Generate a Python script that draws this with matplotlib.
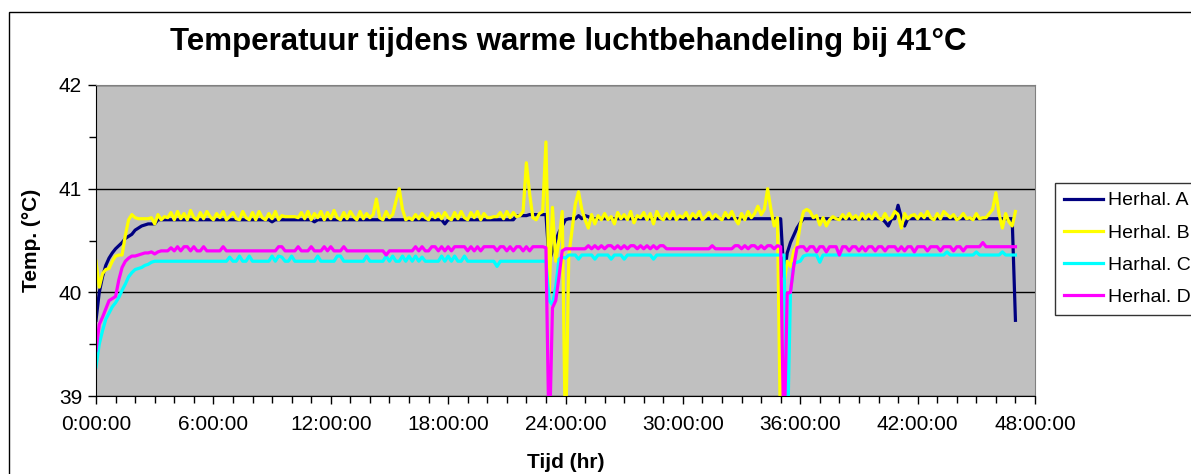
import numpy as np
import matplotlib
matplotlib.use("Agg")
import matplotlib.pyplot as plt
from matplotlib.ticker import MultipleLocator, FuncFormatter
from matplotlib.patches import Rectangle

plt.rcParams["font.family"] = ["Liberation Sans", "DejaVu Sans"]

# metingen elke 10 minuten (uur = index / 6)
STEP_MIN = 10

labels = ["Herhal. A", "Herhal. B", "Harhal. C", "Herhal. D"]
colors = ["#000080", "#FFFF00", "#00FFFF", "#FF00FF"]

herhal_a = [
  39.73, 40.00, 40.15, 40.26, 40.33, 40.38, 40.42, 40.45, 40.48, 40.52, 40.54, 40.56,
  40.60, 40.62, 40.64, 40.65, 40.66, 40.66, 40.66, 40.70, 40.70, 40.70, 40.70, 40.70,
  40.70, 40.70, 40.70, 40.70, 40.70, 40.70, 40.70, 40.70, 40.70, 40.70, 40.70, 40.70,
  40.70, 40.70, 40.70, 40.70, 40.70, 40.70, 40.70, 40.70, 40.70, 40.70, 40.70, 40.70,
  40.70, 40.70, 40.70, 40.70, 40.70, 40.70, 40.68, 40.70, 40.70, 40.70, 40.70, 40.70,
  40.70, 40.70, 40.70, 40.70, 40.70, 40.70, 40.70, 40.68, 40.70, 40.70, 40.70, 40.70,
  40.70, 40.70, 40.70, 40.70, 40.70, 40.70, 40.70, 40.70, 40.70, 40.70, 40.70, 40.70,
  40.70, 40.70, 40.70, 40.70, 40.70, 40.70, 40.70, 40.70, 40.70, 40.70, 40.70, 40.70,
  40.70, 40.70, 40.70, 40.70, 40.70, 40.70, 40.70, 40.70, 40.70, 40.70, 40.70, 40.66,
  40.70, 40.70, 40.70, 40.70, 40.70, 40.70, 40.70, 40.70, 40.70, 40.70, 40.70, 40.70,
  40.70, 40.70, 40.70, 40.70, 40.70, 40.70, 40.70, 40.70, 40.70, 40.74, 40.74, 40.74,
  40.74, 40.75, 40.75, 40.75, 40.75, 40.75, 40.75, 40.30, 40.40, 40.50, 40.58, 40.64,
  40.70, 40.71, 40.71, 40.71, 40.74, 40.71, 40.74, 40.73, 40.71, 40.71, 40.71, 40.71,
  40.71, 40.71, 40.71, 40.71, 40.71, 40.71, 40.71, 40.71, 40.71, 40.71, 40.71, 40.71,
  40.71, 40.71, 40.71, 40.71, 40.71, 40.71, 40.71, 40.71, 40.71, 40.71, 40.71, 40.71,
  40.71, 40.71, 40.71, 40.71, 40.71, 40.71, 40.71, 40.71, 40.71, 40.71, 40.71, 40.71,
  40.71, 40.71, 40.71, 40.71, 40.71, 40.71, 40.71, 40.71, 40.71, 40.71, 40.71, 40.71,
  40.71, 40.71, 40.71, 40.71, 40.71, 40.71, 40.71, 40.15, 40.38, 40.48, 40.55, 40.62,
  40.67, 40.71, 40.71, 40.71, 40.71, 40.71, 40.71, 40.71, 40.71, 40.71, 40.71, 40.71,
  40.71, 40.71, 40.71, 40.71, 40.71, 40.71, 40.71, 40.71, 40.71, 40.71, 40.71, 40.71,
  40.71, 40.71, 40.68, 40.64, 40.71, 40.71, 40.84, 40.72, 40.64, 40.71, 40.71, 40.71,
  40.71, 40.71, 40.71, 40.71, 40.71, 40.71, 40.71, 40.71, 40.71, 40.71, 40.71, 40.71,
  40.71, 40.71, 40.71, 40.71, 40.71, 40.71, 40.71, 40.71, 40.71, 40.71, 40.71, 40.71,
  40.71, 40.71, 40.71, 40.71, 40.71, 40.71, 39.73,
]

herhal_b = [
  40.30, 40.05, 40.18, 40.22, 40.23, 40.30, 40.35, 40.36, 40.36, 40.55, 40.70, 40.75,
  40.72, 40.71, 40.71, 40.71, 40.71, 40.72, 40.66, 40.75, 40.70, 40.73, 40.72, 40.77,
  40.70, 40.78, 40.71, 40.76, 40.70, 40.79, 40.72, 40.70, 40.77, 40.71, 40.78, 40.73,
  40.70, 40.76, 40.72, 40.78, 40.70, 40.73, 40.77, 40.71, 40.70, 40.78, 40.72, 40.70,
  40.77, 40.70, 40.78, 40.72, 40.70, 40.76, 40.71, 40.78, 40.70, 40.74, 40.73, 40.73,
  40.73, 40.73, 40.72, 40.77, 40.71, 40.78, 40.70, 40.76, 40.72, 40.78, 40.70, 40.77,
  40.71, 40.79, 40.72, 40.70, 40.77, 40.71, 40.78, 40.73, 40.70, 40.78, 40.71, 40.76,
  40.72, 40.75, 40.90, 40.72, 40.70, 40.78, 40.72, 40.75, 40.88, 41.00, 40.80, 40.70,
  40.72, 40.70, 40.75, 40.71, 40.76, 40.72, 40.70, 40.77, 40.72, 40.76, 40.71, 40.77,
  40.72, 40.70, 40.77, 40.71, 40.78, 40.72, 40.70, 40.77, 40.72, 40.78, 40.70, 40.76,
  40.72, 40.72, 40.73, 40.73, 40.77, 40.71, 40.78, 40.72, 40.77, 40.73, 40.74, 40.78,
  41.25, 40.95, 40.72, 40.70, 40.76, 40.78, 41.45, 40.00, 40.82, 40.30, 40.50, 40.78,
  38.50, 40.35, 40.60, 40.85, 40.97, 40.80, 40.70, 40.62, 40.75, 40.66, 40.74, 40.70,
  40.76, 40.70, 40.73, 40.66, 40.77, 40.71, 40.75, 40.70, 40.78, 40.67, 40.74, 40.72,
  40.77, 40.70, 40.76, 40.66, 40.78, 40.72, 40.70, 40.76, 40.71, 40.78, 40.70, 40.74,
  40.72, 40.77, 40.70, 40.76, 40.72, 40.78, 40.70, 40.73, 40.77, 40.71, 40.75, 40.72,
  40.70, 40.77, 40.72, 40.78, 40.71, 40.66, 40.76, 40.70, 40.78, 40.72, 40.76, 40.83,
  40.75, 40.80, 41.00, 40.80, 40.64, 40.72, 38.50, 40.08, 40.30, 40.25, 40.40, 40.45,
  40.65, 40.78, 40.80, 40.78, 40.72, 40.74, 40.65, 40.72, 40.64, 40.70, 40.73, 40.71,
  40.70, 40.75, 40.71, 40.76, 40.71, 40.74, 40.70, 40.76, 40.71, 40.75, 40.71, 40.77,
  40.72, 40.70, 40.76, 40.70, 40.72, 40.78, 40.75, 40.62, 40.76, 40.71, 40.74, 40.75,
  40.71, 40.76, 40.72, 40.78, 40.72, 40.70, 40.76, 40.71, 40.78, 40.75, 40.72, 40.75,
  40.70, 40.72, 40.76, 40.71, 40.72, 40.70, 40.76, 40.71, 40.72, 40.72, 40.76, 40.80,
  40.96, 40.75, 40.62, 40.76, 40.68, 40.64, 40.78,
]

harhal_c = [
  39.28, 39.50, 39.63, 39.74, 39.80, 39.86, 39.90, 39.95, 40.02, 40.08, 40.15, 40.19,
  40.22, 40.23, 40.24, 40.26, 40.27, 40.29, 40.30, 40.30, 40.30, 40.30, 40.30, 40.30,
  40.30, 40.30, 40.30, 40.30, 40.30, 40.30, 40.30, 40.30, 40.30, 40.30, 40.30, 40.30,
  40.30, 40.30, 40.30, 40.30, 40.30, 40.34, 40.30, 40.30, 40.35, 40.30, 40.30, 40.35,
  40.30, 40.30, 40.30, 40.30, 40.30, 40.30, 40.35, 40.30, 40.35, 40.34, 40.30, 40.30,
  40.35, 40.30, 40.30, 40.30, 40.30, 40.30, 40.30, 40.30, 40.35, 40.30, 40.30, 40.30,
  40.30, 40.30, 40.35, 40.35, 40.30, 40.30, 40.30, 40.30, 40.30, 40.30, 40.30, 40.35,
  40.30, 40.30, 40.30, 40.30, 40.30, 40.35, 40.30, 40.35, 40.30, 40.30, 40.35, 40.30,
  40.35, 40.30, 40.35, 40.30, 40.34, 40.30, 40.30, 40.30, 40.30, 40.30, 40.35, 40.30,
  40.35, 40.30, 40.35, 40.30, 40.30, 40.35, 40.30, 40.30, 40.30, 40.30, 40.30, 40.30,
  40.30, 40.30, 40.30, 40.25, 40.30, 40.30, 40.30, 40.30, 40.30, 40.30, 40.30, 40.30,
  40.30, 40.30, 40.30, 40.30, 40.30, 40.30, 40.30, 39.92, 39.88, 40.05, 40.32, 40.34,
  40.33, 40.36, 40.36, 40.36, 40.32, 40.36, 40.36, 40.36, 40.36, 40.32, 40.36, 40.36,
  40.36, 40.36, 40.32, 40.36, 40.36, 40.36, 40.32, 40.36, 40.36, 40.36, 40.36, 40.36,
  40.36, 40.36, 40.36, 40.32, 40.36, 40.36, 40.36, 40.36, 40.36, 40.36, 40.36, 40.36,
  40.36, 40.36, 40.36, 40.36, 40.36, 40.36, 40.36, 40.36, 40.36, 40.36, 40.36, 40.36,
  40.36, 40.36, 40.36, 40.36, 40.36, 40.36, 40.36, 40.36, 40.36, 40.36, 40.36, 40.36,
  40.36, 40.36, 40.36, 40.36, 40.36, 40.36, 40.36, 40.36, 38.50, 40.00, 40.28, 40.29,
  40.30, 40.35, 40.36, 40.36, 40.36, 40.36, 40.29, 40.36, 40.36, 40.36, 40.36, 40.36,
  40.36, 40.36, 40.36, 40.36, 40.36, 40.36, 40.36, 40.36, 40.36, 40.36, 40.36, 40.36,
  40.36, 40.36, 40.36, 40.36, 40.36, 40.36, 40.36, 40.36, 40.36, 40.36, 40.36, 40.36,
  40.36, 40.36, 40.36, 40.36, 40.36, 40.36, 40.36, 40.36, 40.36, 40.39, 40.36, 40.36,
  40.36, 40.36, 40.36, 40.36, 40.36, 40.36, 40.39, 40.36, 40.36, 40.36, 40.36, 40.36,
  40.36, 40.36, 40.39, 40.36, 40.36, 40.36, 40.36,
]

herhal_d = [
  39.44, 39.69, 39.76, 39.84, 39.92, 39.94, 39.96, 40.12, 40.24, 40.30, 40.33, 40.35,
  40.35, 40.36, 40.37, 40.38, 40.38, 40.39, 40.37, 40.39, 40.40, 40.40, 40.40, 40.43,
  40.40, 40.44, 40.40, 40.44, 40.44, 40.40, 40.44, 40.40, 40.40, 40.44, 40.40, 40.40,
  40.40, 40.40, 40.40, 40.44, 40.40, 40.40, 40.40, 40.40, 40.40, 40.40, 40.40, 40.40,
  40.40, 40.40, 40.40, 40.40, 40.40, 40.40, 40.40, 40.40, 40.44, 40.44, 40.40, 40.40,
  40.40, 40.40, 40.44, 40.40, 40.40, 40.40, 40.44, 40.40, 40.40, 40.40, 40.44, 40.40,
  40.44, 40.40, 40.40, 40.40, 40.44, 40.40, 40.40, 40.40, 40.40, 40.40, 40.40, 40.40,
  40.40, 40.40, 40.40, 40.40, 40.40, 40.36, 40.40, 40.40, 40.40, 40.40, 40.40, 40.40,
  40.40, 40.40, 40.44, 40.40, 40.44, 40.40, 40.40, 40.44, 40.44, 40.40, 40.44, 40.40,
  40.44, 40.40, 40.44, 40.44, 40.44, 40.44, 40.40, 40.44, 40.40, 40.44, 40.40, 40.44,
  40.44, 40.44, 40.44, 40.40, 40.44, 40.44, 40.40, 40.44, 40.40, 40.44, 40.44, 40.40,
  40.44, 40.40, 40.44, 40.44, 40.44, 40.44, 40.43, 38.50, 39.85, 39.92, 40.15, 40.40,
  40.42, 40.42, 40.42, 40.42, 40.42, 40.42, 40.42, 40.45, 40.42, 40.45, 40.42, 40.45,
  40.42, 40.45, 40.45, 40.42, 40.45, 40.42, 40.45, 40.42, 40.45, 40.45, 40.42, 40.45,
  40.42, 40.45, 40.42, 40.45, 40.42, 40.45, 40.45, 40.42, 40.42, 40.42, 40.42, 40.42,
  40.42, 40.42, 40.42, 40.42, 40.42, 40.42, 40.42, 40.42, 40.42, 40.45, 40.42, 40.42,
  40.42, 40.42, 40.42, 40.42, 40.45, 40.45, 40.42, 40.45, 40.42, 40.45, 40.45, 40.42,
  40.45, 40.42, 40.45, 40.45, 40.42, 40.45, 40.44, 38.50, 39.99, 40.00, 40.25, 40.43,
  40.44, 40.44, 40.40, 40.44, 40.44, 40.39, 40.44, 40.44, 40.39, 40.44, 40.44, 40.44,
  40.36, 40.44, 40.44, 40.40, 40.44, 40.44, 40.40, 40.44, 40.40, 40.44, 40.44, 40.40,
  40.44, 40.44, 40.40, 40.44, 40.44, 40.44, 40.40, 40.44, 40.40, 40.44, 40.44, 40.39,
  40.44, 40.44, 40.44, 40.40, 40.44, 40.44, 40.44, 40.40, 40.44, 40.44, 40.44, 40.40,
  40.44, 40.44, 40.40, 40.44, 40.44, 40.44, 40.44, 40.44, 40.48, 40.44, 40.44, 40.44,
  40.44, 40.44, 40.44, 40.44, 40.44, 40.44, 40.44,
]

series = [herhal_a, herhal_b, harhal_c, herhal_d]


def hour_label(h, pos):
  return "%d:00:00" % int(round(h))


def plot():
  fig = plt.figure(figsize=(11.91, 4.74), dpi=100)
  ax = fig.add_axes([96 / 1191, 1 - 396 / 474, 939 / 1191, 311 / 474])

  # kader rond de hele grafiek (valt rechts en onder buiten beeld)
  fig.patches.append(Rectangle((9 / 1191, -0.05), 1.2, 1.05 - 12 / 474,
                               transform=fig.transFigure, fill=False,
                               edgecolor="black", linewidth=1))

  ax.set_facecolor("#C0C0C0")
  for y, lab, col in zip(series, labels, colors):
    t = np.arange(len(y)) * STEP_MIN / 60.0
    ax.plot(t, y, color=col, linewidth=2.3, label=lab, solid_joinstyle="round")

  ax.set_xlim(0, 48)
  ax.set_ylim(39, 42)
  ax.xaxis.set_major_locator(MultipleLocator(6))
  ax.xaxis.set_minor_locator(MultipleLocator(1))
  ax.xaxis.set_major_formatter(FuncFormatter(hour_label))
  ax.yaxis.set_major_locator(MultipleLocator(1))
  ax.yaxis.set_minor_locator(MultipleLocator(0.5))
  ax.tick_params(which="both", direction="out", labelsize=15, width=1)
  ax.tick_params(which="major", length=6, pad=4)
  ax.tick_params(axis="x", which="major", pad=8)
  ax.tick_params(which="minor", length=5)
  ax.grid(axis="y", which="major", color="black", linewidth=1)
  ax.set_axisbelow(True)

  for side in ["top", "right"]:
    ax.spines[side].set_color("#808080")
  for side in ["left", "bottom"]:
    ax.spines[side].set_color("black")

  ax.set_xlabel("Tijd (hr)", fontsize=15, fontweight="bold", labelpad=13)
  ax.set_ylabel("Temp. (°C)", fontsize=15, fontweight="bold", labelpad=13)
  fig.text(0.477, 1 - 42 / 474, "Temperatuur tijdens warme luchtbehandeling bij 41°C",
           ha="center", va="center", fontsize=22.5, fontweight="bold")

  leg = fig.legend(loc="upper left", bbox_to_anchor=(1055 / 1191, 1 - 183 / 474),
                   fontsize=14, frameon=True, fancybox=False, borderaxespad=0,
                   handlelength=2.0, handletextpad=0.3, labelspacing=0.75,
                   borderpad=0.45)
  leg.get_frame().set_edgecolor("black")
  leg.get_frame().set_linewidth(1)

  fig.savefig("out.png", dpi=100)
  plt.close(fig)


if __name__ == "__main__":
  plot()
